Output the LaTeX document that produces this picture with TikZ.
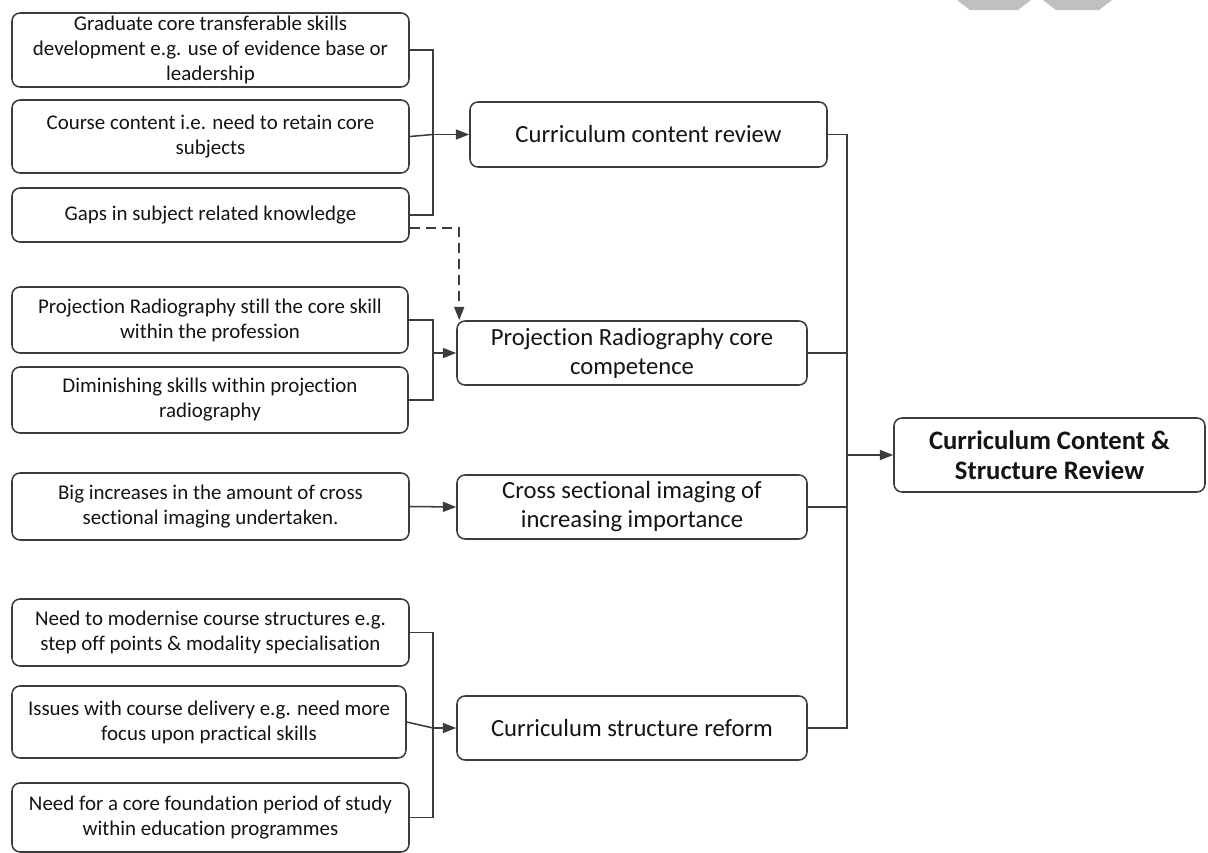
\documentclass[tikz,border=0pt]{standalone}
\usepackage{fontspec}
\setmainfont{Carlito}[Ligatures=NoCommon]
\usetikzlibrary{arrows.meta}
\definecolor{linec}{HTML}{3C3C3C}
\definecolor{textc}{HTML}{141414}
\definecolor{wmark}{HTML}{C0C0C0}
\begin{document}
\begin{tikzpicture}[x=0.75pt,y=-0.75pt,
  sz/.style 2 args={minimum width=#1*0.75pt, minimum height=#2*0.75pt},
  box/.style={draw=linec, line width=1.15pt, rounded corners=6pt, align=center, text=textc, inner sep=0pt},
  leftbox/.style={box, font=\fontsize{15.7}{18.75}\selectfont},
  midbox/.style={box, font=\fontsize{18.5}{21.75}\selectfont},
  finalbox/.style={box, font=\bfseries\fontsize{20}{22.5}\selectfont},
  conn/.style={draw=linec, line width=1.15pt},
  arr/.style={conn, -{Triangle[length=10pt,width=7.5pt]}},
  dashedarr/.style={arr, dash pattern=on 7.5pt off 4.5pt}]
\fill[white] (0,0) rectangle (1208,853);
\useasboundingbox (0,0) rectangle (1208,853);
% watermark fragments
\fill[wmark] (957,0) -- (1031,0) -- (1018,10) -- (970,10) -- cycle;
\fill[wmark] (1043,0) -- (1112,0) -- (1099,10) -- (1056,10) -- cycle;

% left boxes
\node[leftbox, sz={397}{74}] (b1) at (210.5,50) {Graduate core transferable skills\\development e.g. use of evidence base or\\leadership};
\node[leftbox, sz={397}{73}] (b2) at (210.5,136.5) {Course content i.e. need to retain core\\subjects};
\node[leftbox, sz={397}{54}] (b3) at (210.5,215) {Gaps in subject related knowledge};
\node[leftbox, sz={396}{66}] (b4) at (210,320) {Projection Radiography still the core skill\\within the profession};
\node[leftbox, sz={396}{66}] (b5) at (210,400) {Diminishing skills within projection\\radiography};
\node[leftbox, sz={397}{67}] (b6) at (210.5,506.5) {Big increases in the amount of cross\\sectional imaging undertaken.};
\node[leftbox, sz={397}{67}] (b7) at (210.5,632.5) {Need to modernise course structures e.g.\\step off points \& modality specialisation};
\node[leftbox, sz={394}{72}] (b8) at (209,722) {Issues with course delivery e.g. need more\\focus upon practical skills};
\node[leftbox, sz={397}{69}] (b9) at (210.5,817.5) {Need for a core foundation period of study\\within education programmes};

% middle boxes
\node[midbox, sz={357}{65}] (ccr) at (648.5,134.5) {Curriculum content review};
\node[midbox, sz={350}{64}] (prc) at (632,353) {Projection Radiography core\\competence};
\node[midbox, sz={350}{64}] (csi) at (632,507) {Cross sectional imaging of\\increasing importance};
\node[midbox, sz={350}{64}] (csr) at (632,728) {Curriculum structure reform};

% final box
\node[finalbox, sz={311}{74}] (fin) at (1049.5,455) {Curriculum Content \&\\Structure Review};

% junctions
\coordinate (j1) at (433,134.5);
\coordinate (j2) at (433,353);
\coordinate (j3) at (433,728);
\coordinate (bus) at (847,455);

% group 1
\draw[conn] (b1.east) -| (j1) |- (b3.east);
\draw[conn] (b2.east) -- (j1);
\draw[arr] (j1) -- (ccr.west);
\draw[dashedarr] ([yshift=-9.75pt]b3.east) -| ([xshift=2.25pt]prc.north west);

% group 2
\draw[conn] (b4.east) -| (j2) |- (b5.east);
\draw[arr] (j2) -- (prc.west);

% group 3
\draw[arr] (b6.east) -- (csi.west);

% group 4
\draw[conn] (b7.east) -| (j3) |- (b9.east);
\draw[conn] (b8.east) -- (j3);
\draw[arr] (j3) -- (csr.west);

% bus
\draw[conn] (ccr.east) -| (bus) |- (csr.east);
\draw[conn] (prc.east) -- (prc.east -| bus);
\draw[conn] (csi.east) -- (csi.east -| bus);
\draw[arr] (bus) -- (fin.west);
\end{tikzpicture}
\end{document}
